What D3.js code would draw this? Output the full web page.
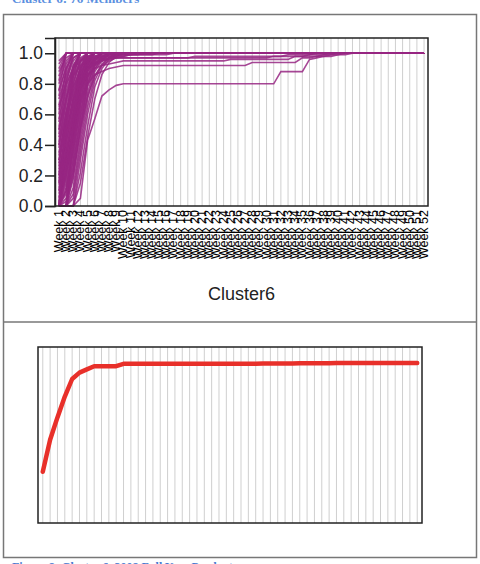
<!DOCTYPE html>
<html>
<head>
<meta charset="utf-8">
<script src="https://cdn.jsdelivr.net/npm/d3@7"></script>
<style>
  body { margin: 0; background: #fff; }
  svg { display: block; font-family: "Liberation Sans", Arial, sans-serif; }
</style>
</head>
<body>
<script>
// Week labels for both panels
const weeks = d3.range(1, 53).map(w => `Week ${w}`);
const yTicks = [0, 0.2, 0.4, 0.6, 0.8, 1.0];

// Cumulative share per cluster member, week 1 onward.
// A member's list stops once it reaches its final value (it stays there after).
const members = [
  [0.93, 1], [0.88, 0.97, 1], [0.85, 1], [0.8, 0.95, 1], [0.76, 0.9, 1],
  [0.72, 0.93, 1], [0.7, 0.86, 0.97, 1], [0.66, 0.88, 1], [0.63, 0.82, 0.95, 1],
  [0.6, 0.9, 1], [0.57, 0.78, 0.92, 1], [0.55, 0.84, 0.97, 1], [0.52, 0.75, 0.9, 1],
  [0.5, 0.7, 0.88, 0.97, 1], [0.47, 0.8, 1], [0.45, 0.66, 0.85, 0.95, 1],
  [0.42, 0.72, 0.9, 1], [0.4, 0.62, 0.8, 0.94, 1], [0.38, 0.68, 0.92, 1],
  [0.35, 0.58, 0.78, 0.9, 0.98, 1], [0.33, 0.6, 0.86, 1], [0.3, 0.55, 0.75, 0.92, 1],
  [0.28, 0.52, 0.7, 0.88, 0.96, 1], [0.26, 0.6, 0.82, 0.95, 1],
  [0.24, 0.48, 0.68, 0.85, 0.97, 1], [0.22, 0.45, 0.72, 0.9, 1],
  [0.2, 0.5, 0.65, 0.82, 0.93, 1], [0.18, 0.42, 0.62, 0.8, 0.95, 1],
  [0.16, 0.4, 0.7, 0.9, 0.98, 1], [0.14, 0.36, 0.58, 0.78, 0.92, 1],
  [0.12, 0.33, 0.55, 0.82, 1], [0.1, 0.3, 0.6, 0.85, 0.96, 1],
  [0.08, 0.28, 0.5, 0.75, 0.9, 0.97, 1], [0.06, 0.25, 0.52, 0.8, 0.94, 1],
  [0.05, 0.22, 0.45, 0.72, 0.88, 0.96, 1], [0.03, 0.2, 0.48, 0.76, 0.93, 1],
  [0, 0.35, 0.65, 0.88, 1], [0, 0.3, 0.6, 0.85, 0.97, 1], [0, 0.26, 0.55, 0.8, 0.95, 1],
  [0, 0.22, 0.5, 0.78, 0.92, 0.98, 1], [0, 0.18, 0.46, 0.74, 0.9, 0.97, 1],
  [0, 0.15, 0.42, 0.7, 0.88, 0.95, 1], [0, 0.12, 0.38, 0.66, 0.86, 0.96, 1],
  [0, 0.1, 0.35, 0.62, 0.84, 0.94, 0.99, 1], [0, 0.08, 0.3, 0.58, 0.82, 0.93, 0.98, 1],
  [0, 0.05, 0.26, 0.55, 0.8, 0.92, 0.97, 1], [0, 0.03, 0.22, 0.5, 0.78, 0.9, 0.96, 0.99, 1],
  [0, 0, 0.4, 0.75, 0.93, 1], [0, 0, 0.32, 0.68, 0.9, 0.98, 1],
  [0, 0, 0.25, 0.6, 0.85, 0.95, 1], [0, 0, 0.18, 0.52, 0.8, 0.92, 0.98, 1],
  [0, 0, 0.12, 0.45, 0.74, 0.9, 0.96, 1], [0, 0, 0.08, 0.4, 0.7, 0.88, 0.95, 0.99, 1],
  [0, 0, 0.05, 0.35, 0.65, 0.85, 0.93, 0.97, 1], [0, 0, 0, 0.3, 0.6, 0.82, 0.92, 0.97, 1],
  [0, 0, 0, 0.22, 0.52, 0.78, 0.9, 0.96, 0.99, 1], [0, 0, 0, 0.15, 0.45, 0.7, 0.86, 0.94, 0.98, 1],
  [0, 0, 0, 0.05, 0.43, 0.57, 0.72, 0.76, 0.79, 0.8,
   0.8, 0.8, 0.8, 0.8, 0.8, 0.8, 0.8, 0.8, 0.8, 0.8,
   0.8, 0.8, 0.8, 0.8, 0.8, 0.8, 0.8, 0.8, 0.8, 0.8,
   0.8, 0.88, 0.88, 0.88, 0.88, 0.96, 0.97, 0.98, 0.98, 0.99, 0.99, 1],
  [0, 0.2, 0.5, 0.7, 0.8, 0.86, 0.88, 0.9, 0.91, 0.92,
   0.92, 0.92, 0.92, 0.92, 0.92, 0.92, 0.92, 0.92, 0.92, 0.92,
   0.92, 0.92, 0.92, 0.92, 0.92, 0.92, 0.92, 0.94, 0.94, 0.94,
   0.94, 0.94, 0.94, 0.94, 0.97, 0.97, 0.98, 0.98, 0.99, 0.99, 1],
  [0.1, 0.35, 0.6, 0.78, 0.86, 0.9, 0.92, 0.93, 0.94, 0.95,
   0.95, 0.95, 0.95, 0.95, 0.95, 0.95, 0.95, 0.95, 0.95, 0.95,
   0.95, 0.95, 0.95, 0.95, 0.96, 0.96, 0.96, 0.96, 0.96, 0.96,
   0.96, 0.96, 0.96, 0.98, 0.98, 0.98, 0.98, 0.99, 0.99, 1],
  [0.3, 0.55, 0.75, 0.88, 0.92, 0.94, 0.95, 0.96, 0.97, 0.97,
   0.97, 0.97, 0.97, 0.97, 0.97, 0.97, 0.97, 0.97, 0.97, 0.97,
   0.97, 0.97, 0.97, 0.97, 0.97, 0.97, 0.97, 0.97, 0.97, 0.97,
   0.98, 0.98, 0.98, 0.98, 0.98, 0.99, 0.99, 0.99, 1],
  [0, 0.4, 0.7, 0.85, 0.9, 0.93, 0.95, 0.97, 0.97, 0.97,
   0.97, 0.97, 0.97, 0.97, 0.97, 0.97, 0.97, 0.97, 0.97, 0.98,
   0.98, 0.98, 0.98, 0.98, 0.98, 0.98, 0.98, 0.98, 0.98, 0.98,
   0.98, 0.98, 0.99, 0.99, 0.99, 0.99, 1],
  [0.5, 0.7, 0.85, 0.92, 0.96, 0.97, 0.98, 0.98, 0.99, 0.99, 0.99, 0.99, 1],
  [0.2, 0.45, 0.68, 0.82, 0.9, 0.94, 0.96, 0.97, 0.98, 0.99, 1],
  [0, 0.1, 0.4, 0.66, 0.84, 0.92, 0.95, 0.97, 0.98, 0.98, 0.99, 0.99, 0.99, 0.99, 1],
  [0.65, 0.8, 0.9, 0.95, 0.97, 0.98, 0.98, 0.99, 0.99, 0.99, 0.99, 0.99, 0.99, 0.99, 0.99, 0.99, 1],
  [0.4, 0.6, 0.78, 0.88, 0.93, 0.96, 0.97, 0.98, 0.99, 1],
  [0, 0, 0.2, 0.5, 0.72, 0.85, 0.92, 0.95, 0.97, 0.98, 0.99, 1],
  [0.9, 1], [0.95, 1], [0.82, 1], [0.75, 1],
  [0, 0.5, 0.9, 1], [0, 0.6, 0.85, 1], [0, 0, 0.55, 0.9, 1], [0.15, 0.5, 0.8, 0.96, 1]
];

// Cluster centre (lower panel)
const clusterMean = [
  0.32, 0.52, 0.66, 0.79, 0.9, 0.94, 0.96, 0.98, 0.98, 0.98,
  0.98, 0.995, 0.995, 0.995, 0.995, 0.995, 0.995, 0.995, 0.995, 0.995,
  0.995, 0.995, 0.995, 0.995, 0.995, 0.996, 0.996, 0.996, 0.996, 0.996,
  0.997, 0.997, 0.997, 0.997, 0.997, 0.998, 0.998, 0.998, 0.999, 0.999,
  1, 1, 1, 1, 1, 1, 1, 1, 1, 1, 1, 1
];

const W = 480, H = 564;

const svg = d3.select('body')
  .append('svg')
  .attr('width', W)
  .attr('height', H);

// captions (cut off by the page edges, as in the scan)
svg.append('text')
  .text('Cluster 6: 76 Members')
  .attr('x', 12)
  .attr('y', 3)
  .attr('font-family', '"Liberation Serif", serif')
  .attr('font-weight', 'bold')
  .attr('font-size', 13)
  .attr('fill', '#5b8fe0');

svg.append('text')
  .text('Figure 8: Cluster 6, 2008 Full Year Products')
  .attr('x', 12)
  .attr('y', 571)
  .attr('font-family', '"Liberation Serif", serif')
  .attr('font-weight', 'bold')
  .attr('font-size', 12)
  .attr('fill', '#4a7ad0');

// outer box + divider
svg.append('rect')
  .attr('x', 3.5).attr('y', 14.5)
  .attr('width', 473).attr('height', 543)
  .attr('fill', 'none')
  .attr('stroke', '#777')
  .attr('stroke-width', 1.5);

svg.append('line')
  .attr('x1', 3.5).attr('x2', 476.5)
  .attr('y1', 322).attr('y2', 322)
  .attr('stroke', '#777')
  .attr('stroke-width', 1.5);

function fullSeries(vals) {
  const out = vals.slice();
  while (out.length < weeks.length) out.push(vals[vals.length - 1]);
  return out;
}

function drawGrid(g, x, y0, y1) {
  g.selectAll('line.grid')
    .data(weeks)
    .enter()
    .append('line')
    .attr('class', 'grid')
    .attr('x1', d => x(d))
    .attr('x2', d => x(d))
    .attr('y1', y0)
    .attr('y2', y1)
    .attr('stroke', '#cfcfcf')
    .attr('stroke-width', 1);
}

// ---- top panel: all members ----
const topBox = { left: 55, right: 428, top: 38, bottom: 206 };

const x1 = d3.scalePoint()
  .domain(weeks)
  .range([topBox.left, topBox.right])
  .padding(0.55);

const y1 = d3.scaleLinear()
  .domain([0, 1.1])
  .range([topBox.bottom, topBox.top]);

const gTop = svg.append('g');

drawGrid(gTop, x1, topBox.top, topBox.bottom);

const line1 = d3.line()
  .x((d, i) => x1(weeks[i]))
  .y(d => y1(d));

gTop.selectAll('path.member')
  .data(members.map(fullSeries))
  .enter()
  .append('path')
  .attr('class', 'member')
  .attr('d', line1)
  .attr('fill', 'none')
  .attr('stroke', '#962682')
  .attr('stroke-opacity', 0.85)
  .attr('stroke-width', 1.6);

gTop.append('rect')
  .attr('x', topBox.left).attr('y', topBox.top)
  .attr('width', topBox.right - topBox.left)
  .attr('height', topBox.bottom - topBox.top)
  .attr('fill', 'none')
  .attr('stroke', '#222')
  .attr('stroke-width', 1.5);

const yAxis = d3.axisLeft(y1)
  .tickValues(yTicks)
  .tickFormat(d3.format('.1f'))
  .tickSize(10)
  .tickPadding(2);

const ga = gTop.append('g')
  .attr('transform', `translate(${topBox.left}, 0)`)
  .call(yAxis);

ga.selectAll('path, line').attr('stroke', '#222').attr('stroke-width', 1.5);
ga.selectAll('text')
  .attr('font-size', 17.5)
  .attr('font-family', '"Liberation Sans", Arial, sans-serif')
  .attr('fill', '#222');

gTop.selectAll('text.week')
  .data(weeks)
  .enter()
  .append('text')
  .attr('class', 'week')
  .text(d => d)
  .attr('text-anchor', 'end')
  .attr('dominant-baseline', 'central')
  .attr('font-size', 12.5)
  .attr('fill', '#000')
  .attr('transform', d => `translate(${x1(d)}, ${topBox.bottom + 4}) rotate(-90)`);

svg.append('text')
  .text('Cluster6')
  .attr('x', (topBox.left + topBox.right) / 2)
  .attr('y', 300)
  .attr('text-anchor', 'middle')
  .attr('font-size', 18)
  .attr('fill', '#222');

// ---- bottom panel: cluster centre ----
const botBox = { left: 38, right: 422, top: 347, bottom: 523 };

const x2 = d3.scalePoint()
  .domain(weeks)
  .range([botBox.left, botBox.right])
  .padding(0.65);

const y2 = d3.scaleLinear()
  .domain([0, 1.1])
  .range([botBox.bottom, botBox.top]);

const gBot = svg.append('g');

drawGrid(gBot, x2, botBox.top, botBox.bottom);

gBot.append('path')
  .datum(clusterMean)
  .attr('d', d3.line()
    .x((d, i) => x2(weeks[i]))
    .y(d => y2(d)))
  .attr('fill', 'none')
  .attr('stroke', '#e8302a')
  .attr('stroke-width', 4.5)
  .attr('stroke-linejoin', 'round')
  .attr('stroke-linecap', 'round');

gBot.append('rect')
  .attr('x', botBox.left).attr('y', botBox.top)
  .attr('width', botBox.right - botBox.left)
  .attr('height', botBox.bottom - botBox.top)
  .attr('fill', 'none')
  .attr('stroke', '#222')
  .attr('stroke-width', 1.5);
</script>
</body>
</html>
